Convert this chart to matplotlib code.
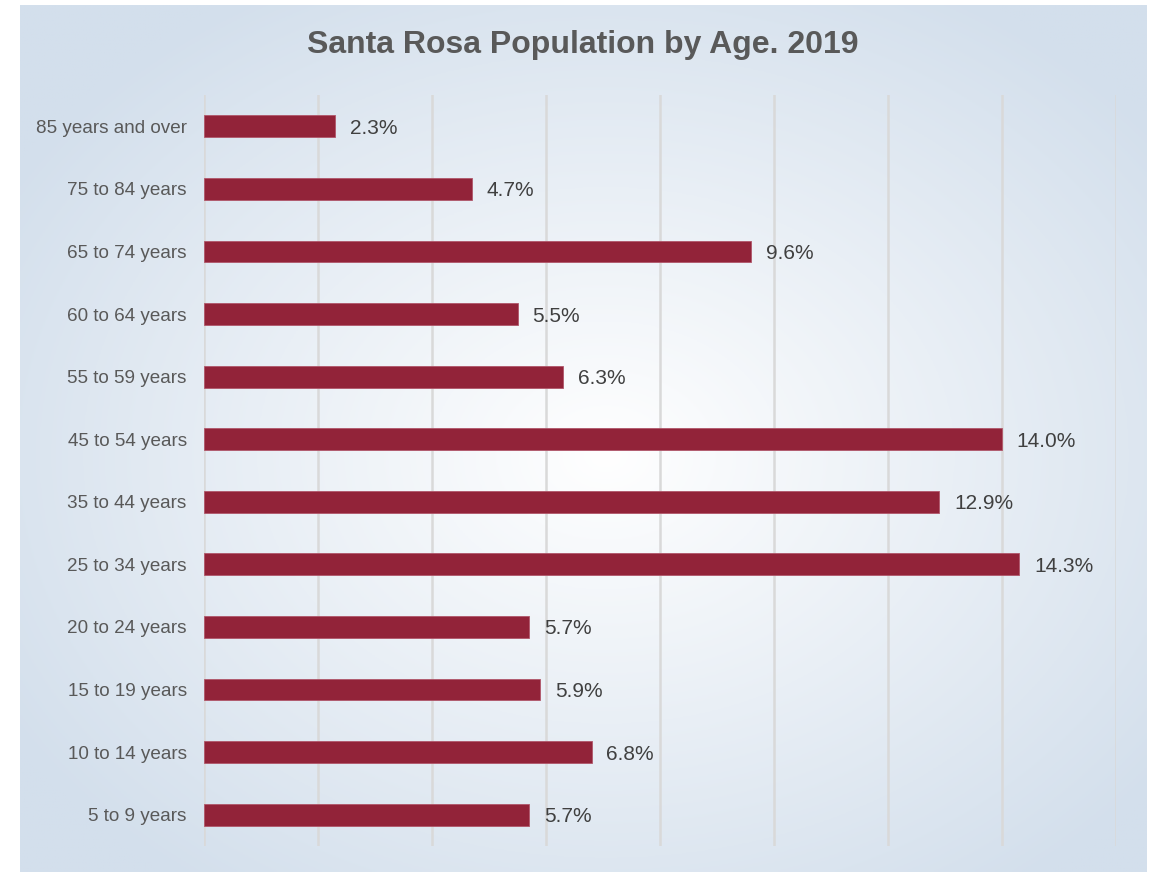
import numpy as np
import matplotlib.pyplot as plt

plt.rcParams['font.family'] = ['Liberation Sans', 'DejaVu Sans']

# Data (bottom to top)
ages = ["5 to 9 years", "10 to 14 years", "15 to 19 years", "20 to 24 years",
        "25 to 34 years", "35 to 44 years", "45 to 54 years", "55 to 59 years",
        "60 to 64 years", "65 to 74 years", "75 to 84 years", "85 years and over"]
shares = [5.7, 6.8, 5.9, 5.7, 14.3, 12.9, 14.0, 6.3, 5.5, 9.6, 4.7, 2.3]

W, H = 1153, 872
fig = plt.figure(figsize=(W / 100, H / 100), dpi=100)
fig.patch.set_facecolor('white')

# radial gradient panel behind chart
bg = fig.add_axes([20 / W, 0, (1147 - 20) / W, (H - 5) / H])
bg.set_axis_off()
yy, xx = np.mgrid[0:1:300j, 0:1:400j]
r = np.sqrt(((xx - 0.52) / 0.62) ** 2 + ((yy - 0.52) / 0.62) ** 2)
r = np.clip(r, 0, 1)
edge = np.array([211, 223, 236]) / 255
center = np.array([255, 255, 255]) / 255
img = center[None, None, :] * (1 - r[..., None]) + edge[None, None, :] * r[..., None]
bg.imshow(img, aspect='auto', extent=[0, 1, 0, 1], zorder=0)
bg.set_xlim(0, 1)
bg.set_ylim(0, 1)

ax = fig.add_axes([204 / W, (H - 846) / H, (1116 - 204) / W, (846 - 95) / H])
ax.patch.set_alpha(0)
y = np.arange(len(ages))
ax.barh(y, shares, height=0.35, color='#922339', edgecolor='#b0566a', linewidth=0.6, zorder=3)
for yi, v in zip(y, shares):
    ax.text(v + 0.26, yi, f"{v:.1f}%", va='center_baseline', ha='left', fontsize=15, color='#404040')

ax.set_xlim(0, 16)
ax.set_ylim(-0.5, len(ages) - 0.5)
ax.set_xticks(np.arange(0, 17, 2))
ax.xaxis.grid(True, color='#d9d9d9', linewidth=1.8, zorder=0)
ax.tick_params(axis='x', bottom=False, labelbottom=False)
ax.tick_params(axis='y', left=False, pad=9)
ax.set_yticks(y)
ax.set_yticklabels(ages, fontsize=13.55, color='#595959')
for lbl in ax.get_yticklabels():
    lbl.set_verticalalignment('center_baseline')
for s in ax.spines.values():
    s.set_visible(False)

fig.text(583 / W, 1 - 45 / H, "Santa Rosa Population by Age. 2019", ha='center', va='center',
         fontsize=23, fontweight='bold', color='#595959')

fig.savefig('out.png', dpi=100)
